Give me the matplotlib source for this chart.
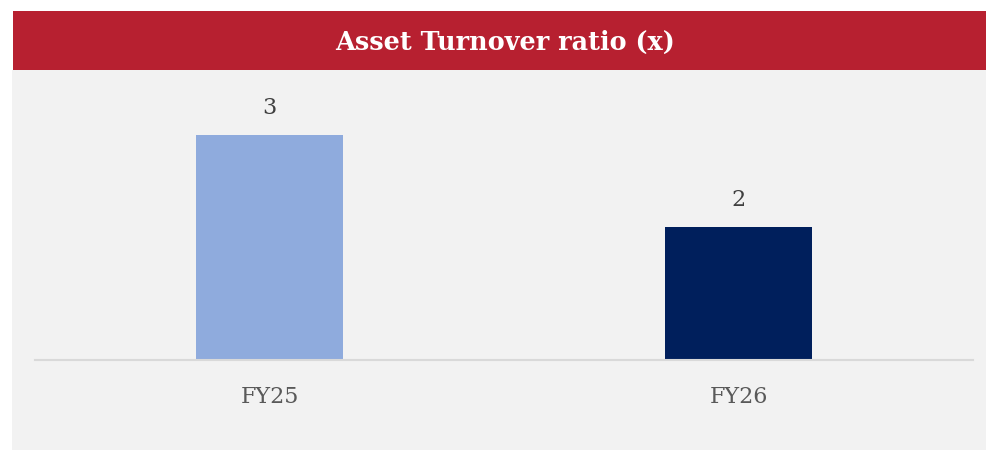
import matplotlib
matplotlib.use("Agg")
import matplotlib.pyplot as plt
from matplotlib.patches import Rectangle

categories = ["FY25", "FY26"]
values = [3.0, 1.77]
value_labels = ["3", "2"]
bar_colors = ["#8FABDD", "#001F5C"]
title = "Asset Turnover ratio (x)"

W, H = 987, 450
fig = plt.figure(figsize=(W / 100, H / 100), dpi=100)
fig.patch.set_facecolor("white")

# grey panel and red title band
fig.patches.append(Rectangle((12 / W, 0), 1 - 12 / W, (H - 70) / H,
                             transform=fig.transFigure, facecolor="#F2F2F2",
                             edgecolor="none", zorder=-10))
fig.patches.append(Rectangle((13 / W, (H - 70) / H), 1 - 13 / W, 59 / H,
                             transform=fig.transFigure, facecolor="#B72030",
                             edgecolor="none", zorder=-10))
fig.text(505 / W, (H - 42) / H, title, color="white",
         fontsize=18.4, fontweight="bold", family="DejaVu Serif",
         ha="center", va="center")

base_px = 359.5
top_px = 80
ax = fig.add_axes([35 / W, (H - base_px) / H, (973 - 35) / W, (base_px - top_px) / H])
ax.set_zorder(1)
ax.set_facecolor("none")
x = list(range(len(categories)))
bars = ax.bar(x, values, width=0.313, color=bar_colors, zorder=2)
ax.set_xlim(-0.5, len(categories) - 0.5)
ax.set_ylim(0, 3.0 * (base_px - top_px) / 225)

for b, lab in zip(bars, value_labels):
    ax.annotate(lab, (b.get_x() + b.get_width() / 2, b.get_height()),
                xytext=(0, 11), textcoords="offset points", ha="center",
                va="bottom", fontsize=16, color="#404040", family="DejaVu Serif")

ax.set_xticks(x)
ax.set_xticklabels(categories, fontsize=16, color="#595959", family="DejaVu Serif")
ax.tick_params(axis="x", length=0, pad=19)
ax.set_yticks([])
for s in ["top", "right", "left"]:
    ax.spines[s].set_visible(False)
ax.spines["bottom"].set_color("#D9D9D9")
ax.spines["bottom"].set_linewidth(1.5)

fig.savefig("out.png", dpi=100)
